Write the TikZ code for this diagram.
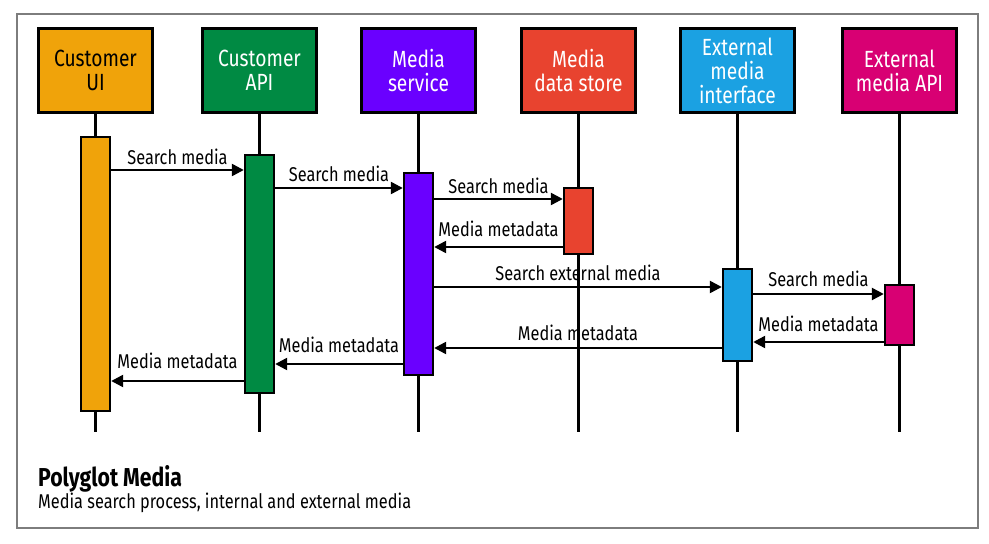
\documentclass[tikz,border=0pt]{standalone}
\usepackage{fontspec}
\setmainfont{Fira Sans}
\newfontfamily\cond[FakeStretch=0.82]{Fira Sans}
\usetikzlibrary{arrows.meta,calc}
\definecolor{cOrange}{RGB}{240,163,10}
\definecolor{cGreen}{RGB}{0,138,67}
\definecolor{cPurple}{RGB}{106,0,255}
\definecolor{cRed}{RGB}{232,67,47}
\definecolor{cBlue}{RGB}{27,161,226}
\definecolor{cMag}{RGB}{216,0,115}
\definecolor{cFrame}{RGB}{125,125,125}
\tikzset{
  head/.style={draw=black, line width=2.4bp, minimum width=114bp, minimum height=84bp, inner sep=0pt, align=center, text=white, font=\cond\fontsize{23.5}{24}\selectfont},
  bar/.style={draw=black, line width=2.4bp, minimum width=29bp, inner sep=0pt},
  life/.style={line width=2.4bp},
  msg/.style={line width=2.4bp, -{Triangle[length=12bp,width=12bp]}},
  lab/.style={anchor=base, inner sep=0pt, font=\cond\fontsize{20}{21}\selectfont},
}
\begin{document}
\begin{tikzpicture}[x=1bp,y=-1bp]
\fill[white] (0,0) rectangle (989,544);
\useasboundingbox (0,0) rectangle (989,544);
\draw[cFrame, line width=1.6bp] (17,14) rectangle (978,528);
% headers
\node[head, fill=cOrange, text=black] (ui) at (95.5,70.5) {Customer\\UI};
\node[head, fill=cGreen] (api) at (259.5,70.5) {Customer\\API};
\node[head, fill=cPurple] (ms) at (418.5,70.5) {Media\\service};
\node[head, fill=cRed] (st) at (578.5,70.5) {Media\\data store};
\node[head, fill=cBlue] (ei) at (737.5,70.5) {External\\media\\interface};
\node[head, fill=cMag] (ea) at (899.5,70.5) {External\\media API};
% lifelines
\coordinate (bot) at (0,432);
\foreach \n in {ui,api,ms,st,ei,ea}
  \draw[life] (\n.south) -- (\n.south |- bot);
% activation bars
\node[bar, fill=cOrange, minimum height=274bp] (uiB) at (ui.south |- 0,274) {};
\node[bar, fill=cGreen, minimum height=238bp] (apiB) at (api.south |- 0,274) {};
\node[bar, fill=cPurple, minimum height=202bp] (msB) at (ms.south |- 0,274) {};
\node[bar, fill=cRed, minimum height=66bp] (stB) at (st.south |- 0,221) {};
\node[bar, fill=cBlue, minimum height=92bp] (eiB) at (ei.south |- 0,315) {};
\node[bar, fill=cMag, minimum height=60bp] (eaB) at (ea.south |- 0,315) {};
% message levels
\coordinate (m1) at (0,170);
\coordinate (m2) at (0,188);
\coordinate (m3) at (0,199);
\coordinate (m4) at (0,247);
\coordinate (m5) at (0,287);
\coordinate (m6) at (0,294);
\coordinate (m7) at (0,342);
\coordinate (m8) at (0,348);
\coordinate (m9) at (0,364);
\coordinate (m10) at (0,381);
\draw[msg] (uiB.east |- m1) -- node[lab, yshift=5bp] {Search media} (apiB.west |- m1);
\draw[msg] (apiB.east |- m2) -- node[lab, yshift=6bp] {Search media} (msB.west |- m2);
\draw[msg] (msB.east |- m3) -- node[lab, yshift=5bp] {Search media} (stB.west |- m3);
\draw[msg] (stB.west |- m4) -- node[lab, yshift=10bp] {Media metadata} (msB.east |- m4);
\draw[msg] (msB.east |- m5) -- node[lab, yshift=6bp] {Search external media} (eiB.west |- m5);
\draw[msg] (eiB.east |- m6) -- node[lab, yshift=7bp] {Search media} (eaB.west |- m6);
\draw[msg] (eaB.west |- m7) -- node[lab, yshift=10bp] {Media metadata} (eiB.east |- m7);
\draw[msg] (eiB.west |- m8) -- node[lab, yshift=7bp] {Media metadata} (msB.east |- m8);
\draw[msg] (msB.west |- m9) -- node[lab, yshift=11bp] {Media metadata} (apiB.east |- m9);
\draw[msg] (apiB.west |- m10) -- node[lab, yshift=12bp] {Media metadata} (uiB.east |- m10);
% caption
\node[anchor=base west, inner sep=0pt, font=\cond\bfseries\fontsize{26}{28}\selectfont] (title) at (38,486) {Polyglot Media};
\node[anchor=base west, inner sep=0pt, font=\cond\fontsize{20}{22}\selectfont] (sub) at (38,508) {Media search process, internal and external media};
\end{tikzpicture}
\end{document}
